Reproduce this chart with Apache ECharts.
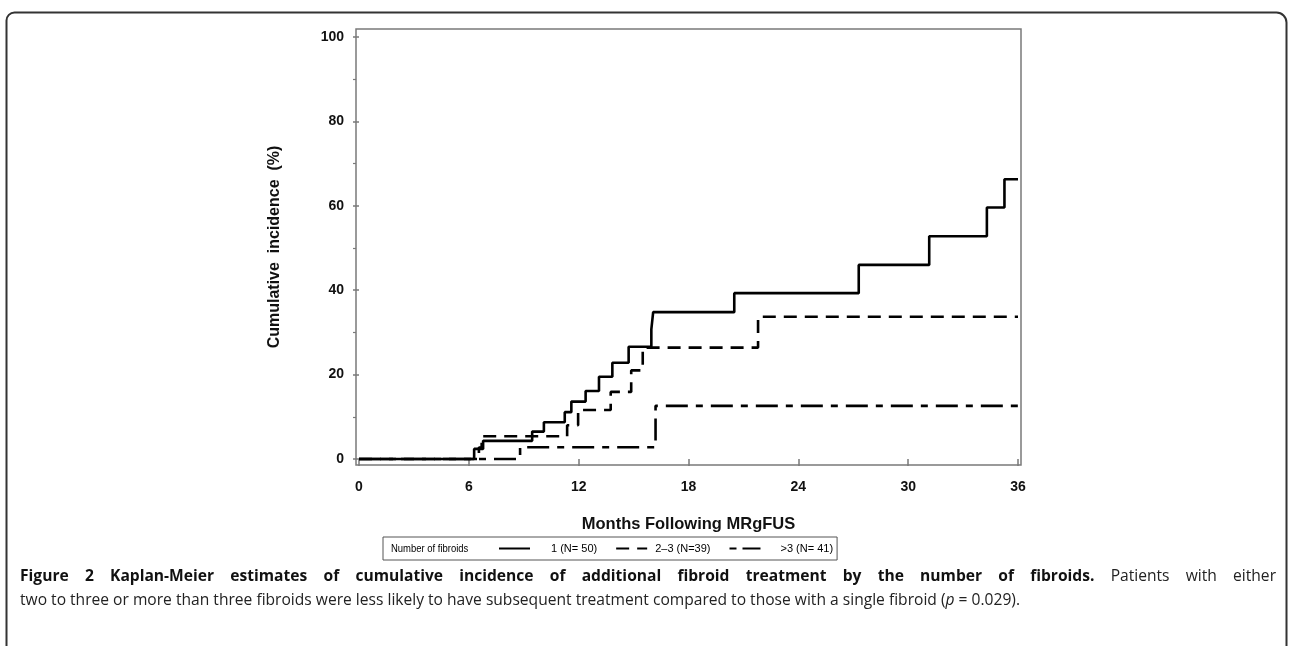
<!DOCTYPE html>
<html><head><meta charset="utf-8">
<script src="https://cdn.jsdelivr.net/npm/echarts@6/dist/echarts.min.js"></script>
<style>html,body{margin:0;padding:0;background:#fff}#c{width:1289px;height:646px}</style>
</head><body><div id="c"></div>
<script>
// ---- data ----
const seriesNames = ['1 (N= 50)', '2\u20133 (N=39)', '>3 (N= 41)'];
// 1 fibroid (N=50): event times (months) and cumulative incidence (%)
const oneT = [0, 6.29, 6.78, 9.46, 10.1, 11.24, 11.6, 12.38, 13.11, 13.84, 14.73, 15.97, 16.07, 20.5, 27.3, 31.15, 34.3, 35.26, 36];
const oneY = [0, 2.4, 4.3, 6.5, 8.7, 11.1, 13.6, 16.1, 19.5, 22.8, 26.6, 30.7, 34.8, 39.3, 46.0, 52.8, 59.6, 66.3, 66.3];
// 2-3 fibroids (N=39)
const twoT = [0, 6.55, 6.7, 11.37, 11.97, 13.75, 14.87, 15.5, 21.8, 36];
const twoY = [0, 2.7, 5.4, 8.0, 11.6, 15.9, 21.0, 26.4, 33.7, 33.7];
// >3 fibroids (N=41)
const threeT = [0, 8.8, 16.2, 36];
const threeY = [0, 2.8, 12.6, 12.6];
// axis ticks and frame extent (the frame sits slightly outside 0..36 and 0..100)
const xTicks = [0, 6, 12, 18, 24, 30, 36];
const yTicks = [0, 20, 40, 60, 80, 100];
const yMinorTicks = [10, 30, 50, 70, 90];
const xRange = [-0.164, 36.164];
const yRange = [-1.42, 101.9];

const captionBold = 'Figure 2 Kaplan-Meier estimates of cumulative incidence of additional fibroid treatment by the number of fibroids.';
const captionRest1 = 'Patients with either';
const captionLine2a = 'two to three or more than three fibroids were less likely to have subsequent treatment compared to those with a single fibroid (';
const captionLine2p = 'p';
const captionLine2b = ' = 0.029).';

const pairs = (t, y) => t.map((v, i) => [v, y[i]]);

const FONT = 'Liberation Sans';
const CAP_FONT = 'Open Sans';
const CAP_SIZE = 15.6;
const frameColor = '#7a7a7a';

// justified first caption line: measure words and spread the gaps
const ctx = document.createElement('canvas').getContext('2d');
const boldWords = captionBold.split(' ');
const normWords = captionRest1.split(' ');
ctx.font = 'bold ' + CAP_SIZE + 'px "' + CAP_FONT + '"';
let wordsWidth = boldWords.reduce((s, w) => s + ctx.measureText(w).width, 0);
ctx.font = CAP_SIZE + 'px "' + CAP_FONT + '"';
wordsWidth += normWords.reduce((s, w) => s + ctx.measureText(w).width, 0);
const lineStart = 20, lineEnd = 1276;
const gaps = boldWords.length + normWords.length - 1;
const gapW = Math.max(3, (lineEnd - lineStart - wordsWidth) / gaps);
let line1 = '';
boldWords.forEach((w, i) => { line1 += (i ? '{s| }' : '') + '{b|' + w + '}'; });
normWords.forEach((w) => { line1 += '{s| }{n|' + w + '}'; });
const captionText = line1 + '\n{n|' + captionLine2a + '}{i|' + captionLine2p + '}{n|' + captionLine2b + '}';

const chart = echarts.init(document.getElementById('c'), null, {renderer: 'canvas'});

const lineBase = {type: 'line', step: 'end', symbol: 'none', showSymbol: false, clip: false,
  xAxisIndex: 0, yAxisIndex: 0, animation: false, color: '#000'};

const tickStyle = {color: frameColor, width: 1.5};
const labelStyle = {fontFamily: FONT, fontWeight: 'bold', fontSize: 14, color: '#111'};

chart.setOption({
  backgroundColor: '#fff',
  animation: false,
  grid: [
    {left: 356, right: 268, top: 29, bottom: 181, show: true, borderColor: frameColor, borderWidth: 1.5, backgroundColor: 'rgba(0,0,0,0)'}
  ],
  xAxis: [
    {type: 'value', min: xRange[0], max: xRange[1],
     axisLine: {show: false},
     axisTick: {show: true, inside: false, length: 7, lineStyle: tickStyle, customValues: xTicks},
     axisLabel: Object.assign({inside: false, margin: 15, customValues: xTicks}, labelStyle),
     splitLine: {show: false},
     name: 'Months Following MRgFUS', nameLocation: 'middle', nameGap: 51,
     nameTextStyle: {fontFamily: FONT, fontWeight: 'bold', fontSize: 16.5, color: '#111'}}
  ],
  yAxis: [
    {type: 'value', position: 'left', min: yRange[0], max: yRange[1],
     axisLine: {show: false},
     axisTick: {show: true, inside: false, length: 6, lineStyle: tickStyle, customValues: yTicks},
     axisLabel: Object.assign({inside: false, margin: 12, customValues: yTicks}, labelStyle),
     splitLine: {show: false},
     name: 'Cumulative  incidence  (%)', nameLocation: 'middle', nameGap: 73, nameRotate: 90,
     nameTextStyle: {fontFamily: FONT, fontWeight: 'bold', fontSize: 16, color: '#111'}},
    {type: 'value', position: 'left', offset: 0, min: yRange[0], max: yRange[1],
     axisLine: {show: false},
     axisTick: {show: true, inside: false, length: 3, lineStyle: {color: frameColor, width: 1.2}, customValues: yMinorTicks},
     axisLabel: {show: false},
     splitLine: {show: false}}
  ],
  legend: {
    left: 383, top: 537, orient: 'horizontal',
    padding: [6, 4, 6, 115], itemGap: 18, itemWidth: 31, itemHeight: 12,
    borderColor: '#555', borderWidth: 1,
    itemStyle: {opacity: 0, color: 'rgba(0,0,0,0)', borderWidth: 0},
    textStyle: {fontFamily: FONT, fontSize: 11, color: '#000',
      rich: {p1: {width: 16}, p2: {width: 3}, p3: {width: 15},
             t: {fontFamily: FONT, fontSize: 11, color: '#000'}}},
    formatter: function (name) {
      const i = seriesNames.indexOf(name);
      return '{p' + (i + 1) + '|}{t|' + name + '}';
    },
    data: [
      {name: seriesNames[0]},
      {name: seriesNames[1]},
      {name: seriesNames[2], lineStyle: {type: [7, 6, 18]}}
    ]
  },
  series: [
    Object.assign({}, lineBase, {name: seriesNames[0], data: pairs(oneT, oneY),
      lineStyle: {color: '#000', width: 2.6, type: 'solid'}}),
    Object.assign({}, lineBase, {name: seriesNames[1], data: pairs(twoT, twoY),
      lineStyle: {color: '#000', width: 2.6, type: [13, 8]}}),
    Object.assign({}, lineBase, {name: seriesNames[2], data: pairs(threeT, threeY),
      lineStyle: {color: '#000', width: 2.6, type: [22, 8, 7, 8]}})
  ],
  graphic: [
    {type: 'rect', left: 4, top: 10, shape: {width: 1280, height: 660, r: [8, 10, 0, 0]},
     style: {fill: 'none', stroke: '#333', lineWidth: 2}, silent: true, z: -1},
    {type: 'text', x: 391, y: 543, scaleX: 0.86,
     style: {text: 'Number of fibroids', font: '11px "Liberation Sans"', fill: '#000'}},
    {type: 'text', left: lineStart, top: 569,
     style: {
       text: captionText,
       rich: {
         b: {fontFamily: CAP_FONT, fontWeight: 'bold', fontSize: CAP_SIZE, lineHeight: 24, fill: '#111'},
         s: {fontFamily: CAP_FONT, fontSize: CAP_SIZE, lineHeight: 24, width: gapW},
         n: {fontFamily: CAP_FONT, fontSize: CAP_SIZE, lineHeight: 24, fill: '#222'},
         i: {fontFamily: CAP_FONT, fontStyle: 'italic', fontSize: CAP_SIZE, lineHeight: 24, fill: '#222'}
       }
     }}
  ]
});
</script></body></html>
